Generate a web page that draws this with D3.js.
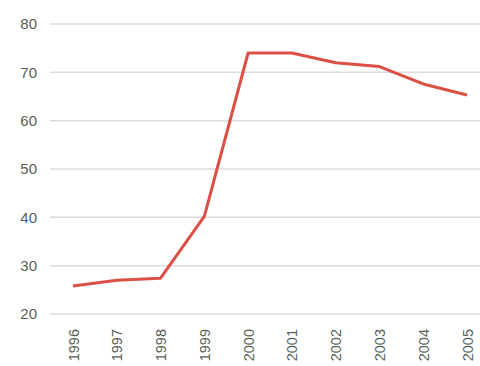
<!DOCTYPE html>
<html><head><meta charset="utf-8">
<script src="https://cdn.jsdelivr.net/npm/d3@7"></script>
<style>html,body{margin:0;padding:0;background:#fff;}svg{display:block;}</style>
</head><body>
<script>
const years = ["1996","1997","1998","1999","2000","2001","2002","2003","2004","2005"];
const values = [25.8, 27.0, 27.4, 40.2, 74.0, 74.0, 72.0, 71.2, 67.6, 65.3];
const yTicks = [20, 30, 40, 50, 60, 70, 80];

const W = 480, H = 366;
const svg = d3.select("body").append("svg").attr("width", W).attr("height", H);

const x = d3.scalePoint().domain(years).range([73, 467]);
const y = d3.scaleLinear().domain([20, 80]).range([314, 24]);

// gridlines
svg.append("g").selectAll("line").data(yTicks).join("line")
  .attr("x1", 50).attr("x2", 480)
  .attr("y1", d => y(d)).attr("y2", d => y(d))
  .attr("stroke", "#dcdcdc").attr("stroke-width", 1.5);

// y axis labels
const yAxis = d3.axisLeft(y).tickValues(yTicks).tickSize(0).tickPadding(0);
const gy = svg.append("g").attr("transform", "translate(37,0)").call(yAxis);
gy.select(".domain").remove();
gy.selectAll("text").attr("font-family", "Arial, Liberation Sans, sans-serif")
  .attr("font-size", 15).attr("fill", "#585f56");

// x axis labels
const xAxis = d3.axisBottom(x).tickSize(0).tickPadding(0);
const gx = svg.append("g").attr("transform", "translate(0,326)").call(xAxis);
gx.select(".domain").remove();
gx.selectAll("text")
  .attr("font-family", "Arial, Liberation Sans, sans-serif")
  .attr("font-size", 14.5).attr("fill", "#585f56")
  .attr("transform", "rotate(-90)")
  .attr("text-anchor", "end")
  .attr("x", -3).attr("y", 0).attr("dy", "0.35em");

// line
const line = d3.line().x((d, i) => x(years[i])).y(d => y(d));
svg.append("path").datum(values)
  .attr("d", line).attr("fill", "none")
  .attr("stroke", "#dc4f45").attr("stroke-width", 3)
  .attr("stroke-linejoin", "round");
</script>
</body></html>
